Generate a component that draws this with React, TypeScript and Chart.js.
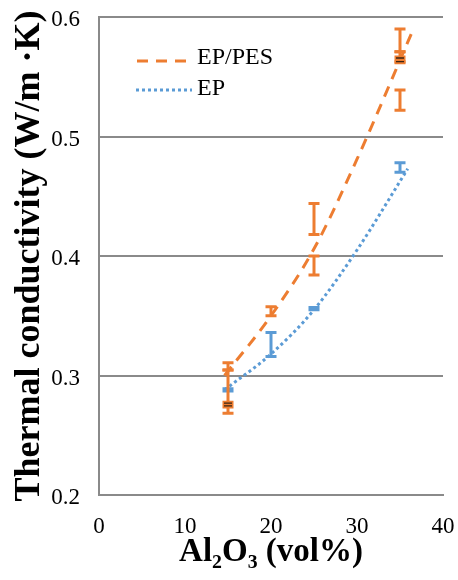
import React, { useEffect, useRef } from "react";
import { Chart, registerables } from "chart.js";

Chart.register(...registerables);

// ---- data ----
const X_MIN = 0;
const X_MAX = 40;
const X_STEP = 10;
const Y_MIN = 0.2;
const Y_MAX = 0.6;
const Y_STEP = 0.1;

const SERIES_NAMES = ["EP/PES", "EP"];
const X_TITLE = "Al₂O₃ (vol%)";
const Y_TITLE = "Thermal conductivity (W/m ·K)";

// trend lines
const EP_PES_TREND_X = [14.6, 20, 25, 30, 36.5];
const EP_PES_TREND_Y = [0.3, 0.35, 0.406, 0.481, 0.589];
const EP_TREND_X = [14.6, 20, 25, 30, 35.9];
const EP_TREND_Y = [0.288, 0.318, 0.355, 0.405, 0.473];

// error bars (x, low, high)
const EP_PES_ERR_X = [15, 15, 20, 25, 25, 35, 35, 35];
const EP_PES_ERR_LOW = [0.2684, 0.3046, 0.35, 0.418, 0.384, 0.571, 0.5626, 0.522];
const EP_PES_ERR_HIGH = [0.3046, 0.3107, 0.3576, 0.444, 0.4, 0.59, 0.571, 0.539];
const EP_PES_DARK_X = [15, 35];
const EP_PES_DARK_LOW = [0.2745, 0.5626];
const EP_PES_DARK_HIGH = [0.2768, 0.5657];
const EP_ERR_X = [15, 20, 25, 35];
const EP_ERR_LOW = [0.287, 0.316, 0.355, 0.47];
const EP_ERR_HIGH = [0.289, 0.336, 0.357, 0.478];

const ORANGE = "#ED7D31";
const BLUE = "#5B9BD5";
const DARK = "#3a2414";
const GRID = "#8a8a8a";
const FONT = "'Liberation Serif', 'Times New Roman', serif";

const zip = (xs: number[], ys: number[]) => xs.map((x, i) => ({ x, y: ys[i] }));

const errorBarPlugin = {
  id: "errorBars",
  afterDatasetsDraw(chart: any) {
    const { ctx } = chart;
    const xs = chart.scales.x;
    const ys = chart.scales.y;
    const draw = (
      X: number[],
      L: number[],
      H: number[],
      color: string,
      lw: number,
      capW: number,
      capLw: number
    ) => {
      ctx.save();
      ctx.strokeStyle = color;
      ctx.lineCap = "butt";
      X.forEach((xv, i) => {
        const px = xs.getPixelForValue(xv);
        const pl = ys.getPixelForValue(L[i]);
        const ph = ys.getPixelForValue(H[i]);
        if (lw > 0) {
          ctx.lineWidth = lw;
          ctx.beginPath();
          ctx.moveTo(px, pl);
          ctx.lineTo(px, ph);
          ctx.stroke();
        }
        ctx.lineWidth = capLw;
        ctx.beginPath();
        ctx.moveTo(px - capW / 2, pl);
        ctx.lineTo(px + capW / 2, pl);
        ctx.moveTo(px - capW / 2, ph);
        ctx.lineTo(px + capW / 2, ph);
        ctx.stroke();
      });
      ctx.restore();
    };
    draw(EP_ERR_X, EP_ERR_LOW, EP_ERR_HIGH, BLUE, 3, 11, 3);
    draw(EP_PES_ERR_X, EP_PES_ERR_LOW, EP_PES_ERR_HIGH, ORANGE, 3, 11, 3);
    draw(EP_PES_DARK_X, EP_PES_DARK_LOW, EP_PES_DARK_HIGH, ORANGE, 3, 11, 5);
    draw(EP_PES_DARK_X, EP_PES_DARK_LOW, EP_PES_DARK_HIGH, DARK, 0, 8, 1.3);
  },
};

const legendPlugin = {
  id: "insideLegend",
  afterDraw(chart: any) {
    const { ctx } = chart;
    ctx.save();
    ctx.font = `24px ${FONT}`;
    ctx.fillStyle = "#000";
    ctx.textBaseline = "middle";
    ctx.textAlign = "left";
    ctx.strokeStyle = ORANGE;
    ctx.lineWidth = 3;
    ctx.setLineDash([11, 8]);
    ctx.beginPath();
    ctx.moveTo(137, 61);
    ctx.lineTo(194, 61);
    ctx.stroke();
    ctx.fillText(SERIES_NAMES[0], 197, 58);
    ctx.strokeStyle = BLUE;
    ctx.setLineDash([3, 3]);
    ctx.beginPath();
    ctx.moveTo(136, 90);
    ctx.lineTo(192, 90);
    ctx.stroke();
    ctx.setLineDash([]);
    ctx.fillText(SERIES_NAMES[1], 197, 89);
    ctx.restore();
  },
};

export default function App() {
  const ref = useRef<HTMLCanvasElement | null>(null);
  useEffect(() => {
    if (!ref.current) return;
    const chart = new Chart(ref.current, {
      type: "line",
      data: {
        datasets: [
          {
            label: SERIES_NAMES[0],
            data: zip(EP_PES_TREND_X, EP_PES_TREND_Y),
            borderColor: ORANGE,
            borderWidth: 3,
            borderDash: [11, 8],
            pointRadius: 0,
            cubicInterpolationMode: "monotone",
            fill: false,
          },
          {
            label: SERIES_NAMES[1],
            data: zip(EP_TREND_X, EP_TREND_Y),
            borderColor: BLUE,
            borderWidth: 3,
            borderDash: [3, 3],
            pointRadius: 0,
            cubicInterpolationMode: "monotone",
            fill: false,
          },
        ],
      },
      options: {
        animation: false,
        responsive: false,
        devicePixelRatio: 1,
        layout: { padding: { top: 17, right: 15, left: 0, bottom: 0 } },
        plugins: { legend: { display: false }, tooltip: { enabled: false } },
        scales: {
          x: {
            type: "linear",
            min: X_MIN,
            max: X_MAX,
            ticks: {
              stepSize: X_STEP,
              color: "#000",
              font: { family: FONT, size: 23 },
              padding: 18,
              maxRotation: 0,
            },
            grid: { display: false, drawTicks: false },
            border: { display: true, color: GRID, width: 2 },
            title: {
              display: true,
              text: X_TITLE,
              color: "#000",
              font: { family: FONT, size: 33, weight: "bold", lineHeight: 1 },
              padding: { top: 0, bottom: 11 },
            },
            afterFit: (s: any) => {
              s.height = 85;
              s.paddingLeft = 0;
              s.paddingRight = 0;
            },
          },
          y: {
            min: Y_MIN,
            max: Y_MAX,
            ticks: {
              stepSize: Y_STEP,
              color: "#000",
              font: { family: FONT, size: 23 },
              padding: 19,
              labelOffset: 3,
              callback: (v: any) => Number(v).toFixed(1),
            },
            grid: { color: GRID, lineWidth: 2, drawTicks: false },
            border: { display: true, color: GRID, width: 2 },
            title: {
              display: true,
              text: Y_TITLE,
              color: "#000",
              font: { family: FONT, size: 36, weight: "bold", lineHeight: 1 },
              padding: { top: 12, bottom: 0 },
            },
            afterFit: (s: any) => {
              s.width = 99;
              s.paddingTop = 0;
              s.paddingBottom = 0;
            },
          },
        },
      },
      plugins: [errorBarPlugin, legendPlugin],
    });
    return () => chart.destroy();
  }, []);
  return (
    <div style={{ position: "absolute", left: 0, top: 0, width: 458, height: 580, background: "#fff" }}>
      <canvas ref={ref} width={458} height={580} style={{ display: "block" }} />
    </div>
  );
}
